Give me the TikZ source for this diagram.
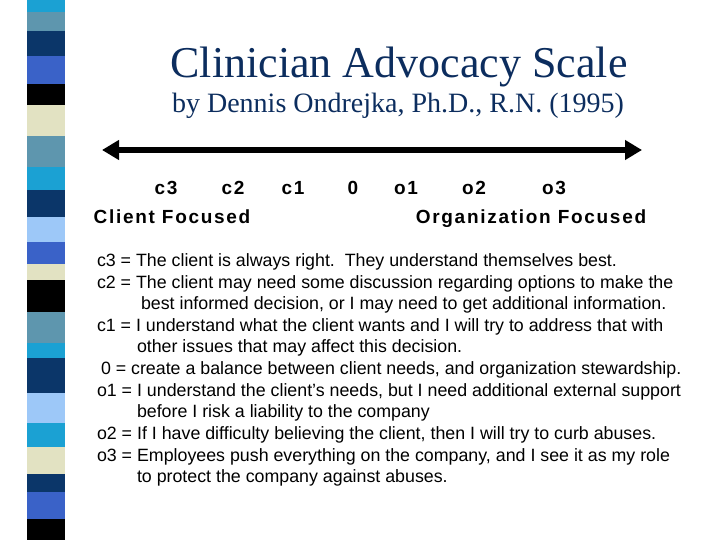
\documentclass[tikz,border=0pt]{standalone}
\usepackage{fontspec}
\setmainfont{Liberation Serif}
\newfontfamily\bodyfont{Liberation Sans}
\newfontfamily\scalelblfont[LetterSpace=9]{Liberation Sans}
\usepackage{tikz}
\usetikzlibrary{arrows.meta}

\definecolor{stripecyan}{HTML}{1BA1D3}
\definecolor{stripesteel}{HTML}{5E96AE}
\definecolor{stripenavy}{HTML}{0B3669}
\definecolor{striperoyal}{HTML}{3A62C8}
\definecolor{stripebeige}{HTML}{E2E2C2}
\definecolor{stripelight}{HTML}{9DC8F8}
\definecolor{titlenavy}{HTML}{0C2D5E}

\begin{document}
\begin{tikzpicture}[x=1pt, y=-1pt,
    every node/.style={inner sep=0pt, outer sep=0pt},
    titletext/.style={anchor=base, text=titlenavy},
    scalelbl/.style={anchor=base, font=\scalelblfont\bfseries\fontsize{19}{22}\selectfont},
    bodyline/.style={anchor=base west, font=\bodyfont\fontsize{17.8}{21.7}\selectfont}]
        \useasboundingbox (0,0) rectangle (720,540);

        % left stripe bar
        \fill[stripecyan]  (27,0)   rectangle (65,12);
        \fill[stripesteel] (27,12)  rectangle (65,31);
        \fill[stripenavy]  (27,31)  rectangle (65,56);
        \fill[striperoyal] (27,56)  rectangle (65,84);
        \fill[black]       (27,84)  rectangle (65,105);
        \fill[stripebeige] (27,105) rectangle (65,136);
        \fill[stripesteel] (27,136) rectangle (65,167);
        \fill[stripecyan]  (27,167) rectangle (65,190);
        \fill[stripenavy]  (27,190) rectangle (65,217);
        \fill[stripelight] (27,217) rectangle (65,242);
        \fill[striperoyal] (27,242) rectangle (65,264);
        \fill[stripebeige] (27,264) rectangle (65,280);
        \fill[black]       (27,280) rectangle (65,312);
        \fill[stripesteel] (27,312) rectangle (65,343);
        \fill[stripecyan]  (27,343) rectangle (65,358);
        \fill[stripenavy]  (27,358) rectangle (65,393);
        \fill[stripelight] (27,393) rectangle (65,423);
        \fill[stripecyan]  (27,423) rectangle (65,447);
        \fill[stripebeige] (27,447) rectangle (65,474);
        \fill[stripenavy]  (27,474) rectangle (65,492);
        \fill[striperoyal] (27,492) rectangle (65,519);
        \fill[black]       (27,519) rectangle (65,540);

        % title
        \node[titletext, font=\fontsize{44}{50}\selectfont] (title) at (399,78) {Clinician Advocacy Scale};
        \node[titletext, font=\fontsize{28}{32}\selectfont] (subtitle) at (398,113) {by Dennis Ondrejka, Ph.D., R.N. (1995)};

        % scale
        \coordinate (scaleleft) at (102,150);
        \coordinate (scaleright) at (642,150);
        \draw[line width=6pt, {Triangle[length=17pt, width=19pt]}-{Triangle[length=17pt, width=19pt]}] (scaleleft) -- (scaleright);

        \node[scalelbl] (c3) at (166,195) {c3};
        \node[scalelbl] (c2) at (233,195) {c2};
        \node[scalelbl] (c1) at (293,195) {c1};
        \node[scalelbl] (zero) at (353,195) {0};
        \node[scalelbl] (o1) at (406,195) {o1};
        \node[scalelbl] (o2) at (474,195) {o2};
        \node[scalelbl] (o3) at (554,195) {o3};
        \node[scalelbl] (clientfocus) at (172,223) {Client Focused};
        \node[scalelbl] (orgfocus) at (531,223) {Organization Focused};

        % definitions
        \node[bodyline] (defc3) at (97,266) {c3 = The client is always right.\ \ They understand themselves best.};
        \node[bodyline] (defc2) at (97,288) {c2 = The client may need some discussion regarding options to make the};
        \node[bodyline] (defc2b) at (141,309) {best informed decision, or I may need to get additional information.};
        \node[bodyline] (defc1) at (97,331) {c1 = I understand what the client wants and I will try to address that with};
        \node[bodyline] (defc1b) at (137,352) {other issues that may affect this decision.};
        \node[bodyline] (defzero) at (101,374) {0 = create a balance between client needs, and organization stewardship.};
        \node[bodyline] (defo1) at (97,396) {o1 = I understand the client’s needs, but I need additional external support};
        \node[bodyline] (defo1b) at (137,417) {before I risk a liability to the company};
        \node[bodyline] (defo2) at (97,439) {o2 = If I have difficulty believing the client, then I will try to curb abuses.};
        \node[bodyline] (defo3) at (97,461) {o3 = Employees push everything on the company, and I see it as my role};
        \node[bodyline] (defo3b) at (137,482) {to protect the company against abuses.};
      \end{tikzpicture}
\end{document}
